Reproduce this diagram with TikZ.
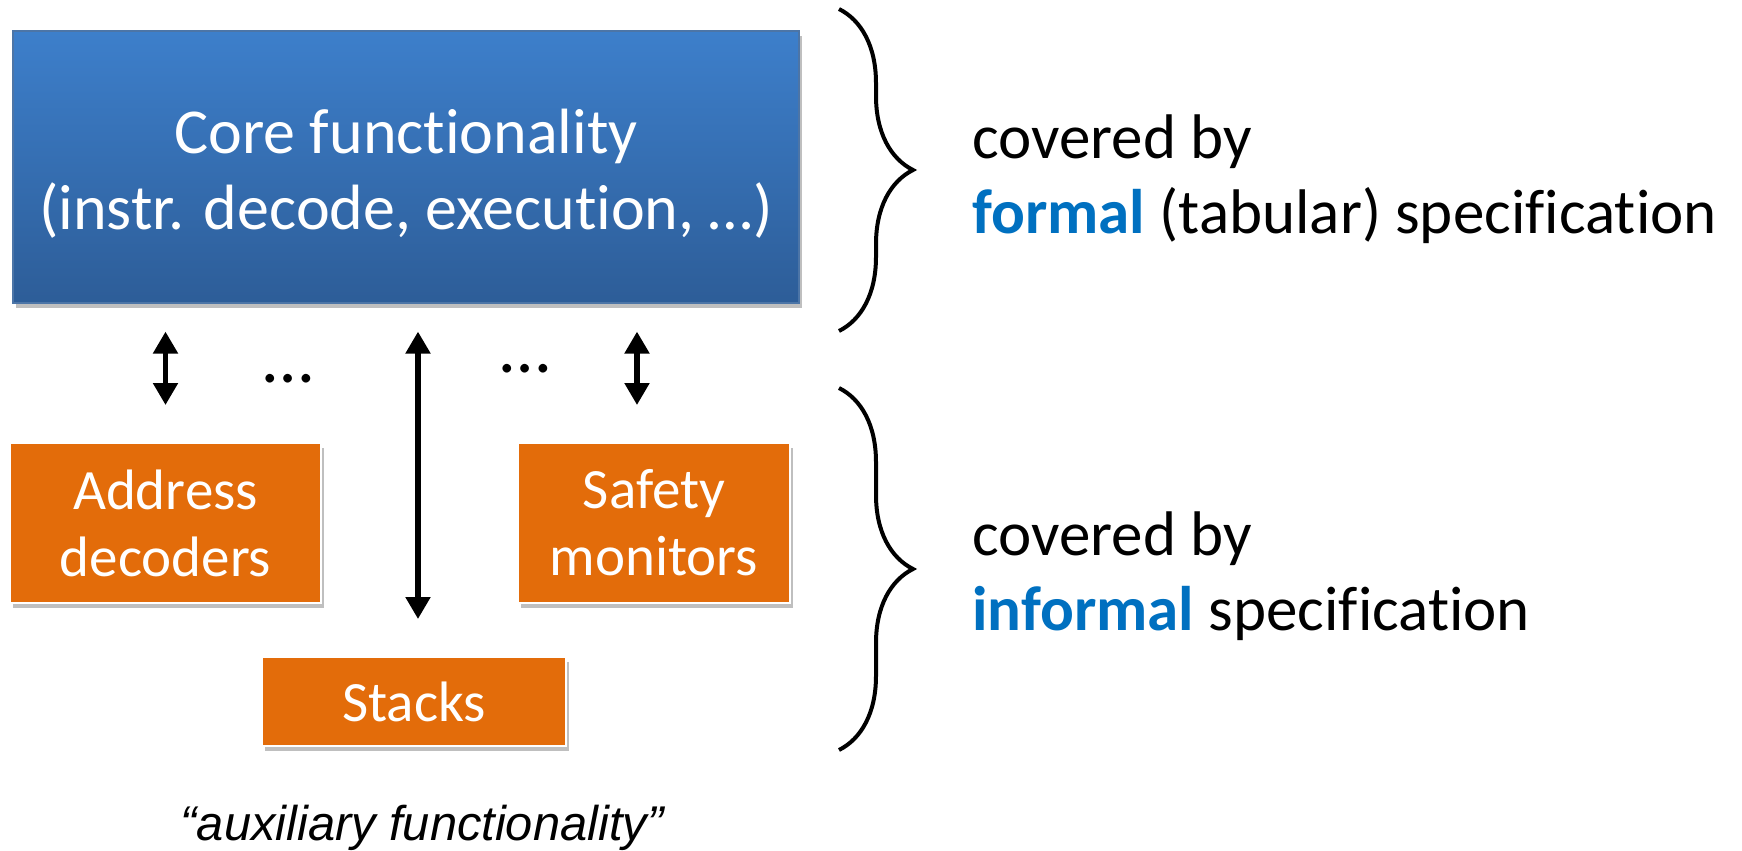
\documentclass[tikz,border=0pt]{standalone}
\usepackage{fontspec}
\setmainfont{Carlito}[RawFeature={-liga;-clig;-calt;-dlig}]
\newfontfamily\arialfont{Liberation Sans}
\usetikzlibrary{arrows.meta,shadows,decorations.pathreplacing}
\definecolor{coreTop}{RGB}{61,127,203}
\definecolor{coreBot}{RGB}{45,93,152}
\definecolor{auxorange}{RGB}{227,108,10}
\definecolor{specblue}{RGB}{0,112,192}
\begin{document}
\begin{tikzpicture}[x=0.5pt,y=-0.5pt,
  boxshadow/.style={drop shadow={shadow xshift=1.5pt,shadow yshift=-2.5pt,opacity=0.25,fill=black}},
  corebox/.style={rectangle,inner sep=0pt,top color=coreTop,bottom color=coreBot,
    draw=coreBot!85!white,line width=0.6pt,boxshadow},
  coretext/.style={inner sep=0pt,text=white,align=center,font=\fontsize{32}{38}\selectfont},
  auxbox/.style={rectangle,inner sep=0pt,fill=auxorange,draw=white,line width=1pt,
    text=white,align=center,font=\fontsize{28.5}{33.5}\selectfont,boxshadow},
  dbl/.style={line width=2.6pt,{Triangle[width=12pt,length=11pt]}-{Triangle[width=12pt,length=11pt]}},
  curly/.style={line width=2pt,decorate,decoration={brace,amplitude=37pt}},
  spectext/.style={inner sep=0pt,align=left,font=\fontsize{31.5}{37.5}\selectfont},
  dotsnode/.style={inner sep=0pt,font=\fontsize{36}{40}\selectfont}]
\useasboundingbox (0,0) rectangle (1742,851);

% main block
\node[corebox,minimum width=393pt,minimum height=136pt] (core) at (406,167) {};
\node[coretext] (corelabel) at ([yshift=-3.5pt]core.center)
  {Core functionality\\(instr. decode, execution, \dots)};

% auxiliary blocks
\node[auxbox,minimum width=155.5pt,minimum height=80pt] (addr) at (165.5,523) {Address\\decoders};
\node[auxbox,minimum width=136pt,minimum height=80pt] (safety) at (654,523) {Safety\\monitors};
\node[auxbox,minimum width=152pt,minimum height=44.5pt] (stacks) at (414,701.5) {Stacks};

% ellipses between the links
\node[dotsnode,anchor=base] (dotsA) at (288,382) {…};
\node[dotsnode,anchor=base] (dotsB) at (525,372) {…};

% links between core and auxiliary blocks
\draw[dbl,shorten <=14pt,shorten >=18.5pt] (addr.north |- core.south) -- (addr.north);
\draw[dbl,shorten <=14pt,shorten >=18.5pt] ([xshift=2pt]stacks.north |- core.south) -- ([xshift=2pt]stacks.north);
\draw[dbl,shorten <=14pt,shorten >=18.5pt] ([xshift=-8.5pt]safety.north |- core.south) -- ([xshift=-8.5pt]safety.north);

% braces
\coordinate (b1t) at (839,9);
\coordinate (b1b) at (839,331);
\coordinate (b2t) at (839,388);
\coordinate (b2b) at (839,750);
\draw[curly] (b1t) -- (b1b);
\draw[curly] (b2t) -- (b2b);

% specification labels
\node[spectext,anchor=west] (formal) at (972,179)
  {covered by\\\textcolor{specblue}{\textbf{formal}} (tabular) specification};
\node[spectext,anchor=west] (informal) at (972,576)
  {covered by\\\textcolor{specblue}{\textbf{informal}} specification};

% caption
\node[inner sep=0pt,font=\arialfont\itshape\fontsize{24.4}{29}\selectfont] (aux) at (422,828)
  {“auxiliary functionality”};
\end{tikzpicture}
\end{document}
